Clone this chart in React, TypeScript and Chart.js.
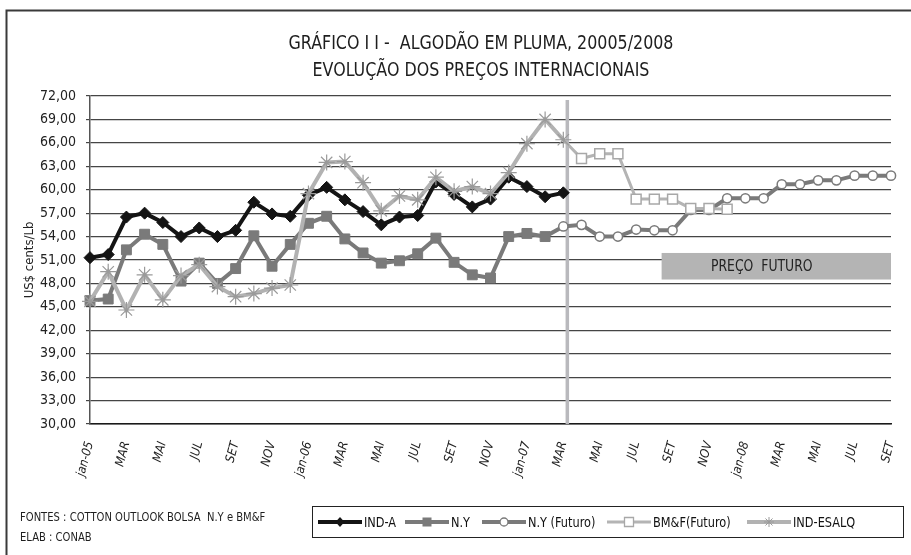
import React, { useEffect, useRef } from "react";
import { Chart, registerables } from "chart.js";

Chart.register(...registerables);

// ---------- data ----------
const MONTHS = [
  "jan-05", "FEV", "MAR", "ABR", "MAI", "JUN", "JUL", "AGO", "SET", "OUT", "NOV", "DEZ",
  "jan-06", "FEV", "MAR", "ABR", "MAI", "JUN", "JUL", "AGO", "SET", "OUT", "NOV", "DEZ",
  "jan-07", "FEV", "MAR", "ABR", "MAI", "JUN", "JUL", "AGO", "SET", "OUT", "NOV", "DEZ",
  "jan-08", "FEV", "MAR", "ABR", "MAI", "JUN", "JUL", "AGO", "SET",
];

const IND_A = [
  51.3, 51.7, 56.5, 57.0, 55.8, 54.0, 55.1, 54.0, 54.8, 58.4, 56.9, 56.6,
  59.3, 60.3, 58.7, 57.2, 55.5, 56.5, 56.7, 61.0, 59.4, 57.8, 58.8, 61.6,
  60.4, 59.1, 59.6,
];

const NY = [
  45.8, 46.0, 52.3, 54.3, 53.0, 48.3, 50.6, 48.0, 49.9, 54.1, 50.2, 53.0,
  55.7, 56.6, 53.7, 51.9, 50.6, 50.9, 51.8, 53.8, 50.7, 49.1, 48.7, 54.0,
  54.4, 54.0, 55.3,
];

const FUTURE_START = 26; // MAR-07
const NY_FUTURO = [
  55.3, 55.5, 54.0, 54.0, 54.9, 54.8, 54.8, 57.4, 57.4, 58.9, 58.9, 58.9,
  60.7, 60.7, 61.2, 61.2, 61.8, 61.8, 61.8,
];

const BMF_FUTURO = [66.4, 64.0, 64.6, 64.6, 58.8, 58.8, 58.8, 57.6, 57.6, 57.5];

const IND_ESALQ = [
  45.7, 49.5, 44.6, 49.1, 45.9, 49.0, 50.4, 47.6, 46.3, 46.7, 47.4, 47.8,
  59.5, 63.5, 63.6, 60.9, 57.3, 59.2, 58.7, 61.6, 59.8, 60.4, 59.5, 62.2,
  65.9, 69.0, 66.4,
];

const Y_MIN = 30;
const Y_MAX = 72;
const Y_STEP = 3;

const TITLE_1 = "GRÁFICO I I -  ALGODÃO EM PLUMA, 20005/2008";
const TITLE_2 = "EVOLUÇÃO DOS PREÇOS INTERNACIONAIS";
const Y_TITLE = "US$ cents/Lb";
const NOTE_1 = "FONTES : COTTON OUTLOOK BOLSA  N.Y e BM&F";
const NOTE_2 = "ELAB : CONAB";
const FUTURE_LABEL = "PREÇO  FUTURO";

// divider line and "future" band, in data units
const DIVIDER_AT = 26.22;
const DIVIDER_TOP = 71.5;
const BAND_FROM = 31.4;
const BAND_TO = 44;
const BAND_LOW = 48.5;
const BAND_HIGH = 51.9;
const BAND_LABEL_AT = 36.9;

const NARROW = "'Liberation Sans Narrow', 'DejaVu Sans Condensed', 'Arial Narrow', sans-serif";

const lead = (n: number) => Array(n).fill(null);

function textC(ctx: CanvasRenderingContext2D, s: string, x: number, y: number, align: CanvasTextAlign, sx: number) {
  ctx.save();
  ctx.translate(x, y);
  ctx.scale(sx, 1);
  ctx.textAlign = align;
  ctx.fillText(s, 0, 0);
  ctx.restore();
}

type MarkerKind = "diamond" | "square" | "circle" | "openSquare" | "star";

function drawMarker(ctx: CanvasRenderingContext2D, kind: MarkerKind, x: number, y: number, color: string) {
  ctx.save();
  ctx.beginPath();
  if (kind === "diamond") {
    ctx.fillStyle = color;
    ctx.moveTo(x, y - 5); ctx.lineTo(x + 4.5, y); ctx.lineTo(x, y + 5); ctx.lineTo(x - 4.5, y); ctx.closePath();
    ctx.fill();
  } else if (kind === "square") {
    ctx.fillStyle = color;
    ctx.fillRect(x - 4.5, y - 4.5, 9, 9);
  } else if (kind === "circle") {
    ctx.fillStyle = "#fff"; ctx.strokeStyle = color; ctx.lineWidth = 1.3;
    ctx.arc(x, y, 4, 0, Math.PI * 2); ctx.fill(); ctx.stroke();
  } else if (kind === "openSquare") {
    ctx.fillStyle = "#fff"; ctx.strokeStyle = color; ctx.lineWidth = 1.3;
    ctx.rect(x - 4.5, y - 4.5, 9, 9); ctx.fill(); ctx.stroke();
  } else {
    ctx.strokeStyle = color; ctx.lineWidth = 1;
    const r = 5;
    for (let k = 0; k < 4; k++) {
      const a = (k * Math.PI) / 4;
      ctx.moveTo(x - r * Math.cos(a), y - r * Math.sin(a));
      ctx.lineTo(x + r * Math.cos(a), y + r * Math.sin(a));
    }
    ctx.stroke();
  }
  ctx.restore();
}

const LEGEND_MARKERS: MarkerKind[] = ["diamond", "square", "circle", "openSquare", "star"];
const LEGEND_SLOTS = [318, 405, 482, 607, 747];

const decorPlugin = {
  id: "decor",
  beforeDraw(chart: any) {
    const { ctx, width, height } = chart;
    ctx.save();
    ctx.fillStyle = "#fff";
    ctx.fillRect(0, 0, width, height);
    // frame
    ctx.strokeStyle = "#3a3a3a";
    ctx.lineWidth = 2;
    ctx.beginPath();
    ctx.moveTo(6.5, height + 5);
    ctx.lineTo(6.5, 10.5);
    ctx.lineTo(width + 5, 10.5);
    ctx.stroke();
    // titles
    ctx.fillStyle = "#1e1e1e";
    ctx.textBaseline = "middle";
    ctx.font = `19px ${NARROW}`;
    textC(ctx, TITLE_1, 481, 44, "center", 0.93);
    textC(ctx, TITLE_2, 481, 71, "center", 0.93);
    // notes
    ctx.font = `12.5px ${NARROW}`;
    textC(ctx, NOTE_1, 20, 518, "left", 0.89);
    textC(ctx, NOTE_2, 20, 538, "left", 0.89);
    ctx.restore();
  },
  beforeDatasetsDraw(chart: any) {
    const { ctx } = chart;
    const xs = chart.scales.x;
    const ys = chart.scales.y;
    ctx.save();
    // future band
    const bx1 = xs.getPixelForValue(BAND_FROM);
    const bx2 = xs.getPixelForValue(BAND_TO);
    const by1 = ys.getPixelForValue(BAND_HIGH);
    const by2 = ys.getPixelForValue(BAND_LOW);
    ctx.fillStyle = "#b4b4b4";
    ctx.fillRect(bx1, by1, bx2 - bx1, by2 - by1);
    ctx.fillStyle = "#222";
    ctx.font = `15px ${NARROW}`;
    ctx.textBaseline = "middle";
    textC(ctx, FUTURE_LABEL, xs.getPixelForValue(BAND_LABEL_AT), (by1 + by2) / 2 + 1, "center", 0.92);
    // divider
    const dx = xs.getPixelForValue(DIVIDER_AT);
    ctx.strokeStyle = "#b9b9bd";
    ctx.lineWidth = 3.5;
    ctx.beginPath();
    ctx.moveTo(dx, ys.getPixelForValue(DIVIDER_TOP));
    ctx.lineTo(dx, ys.getPixelForValue(Y_MIN));
    ctx.stroke();
    ctx.restore();
  },
  afterDraw(chart: any) {
    const { ctx } = chart;
    ctx.save();
    ctx.strokeStyle = "#222";
    ctx.lineWidth = 1;
    ctx.strokeRect(312.5, 506.5, 591, 31);
    ctx.font = `14px ${NARROW}`;
    ctx.textBaseline = "middle";
    const SX = 0.9;
    const y = 522;
    chart.data.datasets.forEach((ds: any, i: number) => {
      const x = LEGEND_SLOTS[i];
      ctx.strokeStyle = ds.borderColor;
      ctx.lineWidth = ds.borderWidth;
      ctx.beginPath();
      ctx.moveTo(x, y);
      ctx.lineTo(x + 44, y);
      ctx.stroke();
      drawMarker(ctx, LEGEND_MARKERS[i], x + 22, y, ds.pointBorderColor);
      ctx.fillStyle = "#111";
      textC(ctx, ds.label, x + 46, y + 1, "left", SX);
    });
    ctx.restore();
  },
};

export default function App() {
  const ref = useRef<HTMLCanvasElement | null>(null);

  useEffect(() => {
    if (!ref.current) return;
    const chart = new Chart(ref.current, {
      type: "line",
      data: {
        labels: MONTHS,
        datasets: [
          {
            label: "IND-A",
            data: IND_A,
            borderColor: "#141414",
            borderWidth: 4,
            pointStyle: "rectRot",
            pointRadius: 6,
            pointBackgroundColor: "#141414",
            pointBorderColor: "#141414",
            pointBorderWidth: 1,
            order: 5,
          },
          {
            label: "N.Y",
            data: NY,
            borderColor: "#7a7a7a",
            borderWidth: 4,
            pointStyle: "rect",
            pointRadius: (c: any) => (c.dataIndex === FUTURE_START ? 0 : 7),
            pointBackgroundColor: "#7a7a7a",
            pointBorderColor: "#7a7a7a",
            pointBorderWidth: 1,
            order: 4,
          },
          {
            label: "N.Y (Futuro)",
            data: [...lead(FUTURE_START), ...NY_FUTURO],
            borderColor: "#7a7a7a",
            borderWidth: 4,
            pointStyle: "circle",
            pointRadius: 4.6,
            pointBackgroundColor: "#ffffff",
            pointBorderColor: "#7a7a7a",
            pointBorderWidth: 1.5,
            order: 3,
          },
          {
            label: "BM&F(Futuro)",
            data: [...lead(FUTURE_START), ...BMF_FUTURO],
            borderColor: "#b4b4b4",
            borderWidth: 3,
            pointStyle: "rect",
            pointRadius: (c: any) => (c.dataIndex === FUTURE_START ? 0 : 7),
            pointBackgroundColor: "#ffffff",
            pointBorderColor: "#a8a8a8",
            pointBorderWidth: 1.5,
            order: 2,
          },
          {
            label: "IND-ESALQ",
            data: IND_ESALQ,
            borderColor: "#b2b2b2",
            borderWidth: 4,
            pointStyle: "star",
            pointRadius: 8,
            pointBackgroundColor: "#9a9a9a",
            pointBorderColor: "#9a9a9a",
            pointBorderWidth: 1.2,
            order: 1,
          },
        ],
      },
      options: {
        animation: false,
        responsive: false,
        devicePixelRatio: 1,
        layout: { padding: { top: 96, right: 20, left: 0, bottom: 0 } },
        elements: { line: { tension: 0 } },
        plugins: {
          legend: { display: false },
          title: { display: false },
          tooltip: { enabled: false },
        },
        scales: {
          x: {
            type: "category",
            offset: false,
            grid: { display: false, drawTicks: false },
            border: { display: true, color: "#1a1a1a", width: 1.5 },
            ticks: {
              autoSkip: false,
              minRotation: 75,
              maxRotation: 75,
              padding: 16,
              color: "#222",
              font: { family: NARROW, size: 12.5, style: "italic" },
              callback: (_v: any, i: number) => (i % 2 === 0 ? MONTHS[i] : ""),
            },
            afterFit: (s: any) => {
              s.height = 131;
              s.paddingLeft = 0;
              s.paddingRight = 0;
            },
          },
          y: {
            min: Y_MIN,
            max: Y_MAX,
            ticks: {
              stepSize: Y_STEP,
              padding: 10,
              color: "#222",
              font: { family: NARROW, size: 14 },
              callback: (v: any) => Number(v).toFixed(2).replace(".", ","),
            },
            grid: { color: "#454545", lineWidth: 1.2, tickLength: 4 },
            border: { color: "#555", width: 1.5 },
            title: {
              display: true,
              text: Y_TITLE,
              color: "#222",
              font: { family: NARROW, size: 13 },
              padding: { top: 22, bottom: 0 },
            },
            afterFit: (s: any) => {
              s.width = 90;
            },
          },
        },
      },
      plugins: [decorPlugin],
    });
    return () => chart.destroy();
  }, []);

  return (
    <div style={{ position: "absolute", left: 0, top: 0, width: 911, height: 555, background: "#fff" }}>
      <canvas ref={ref} width={911} height={555} style={{ display: "block" }} />
    </div>
  );
}
